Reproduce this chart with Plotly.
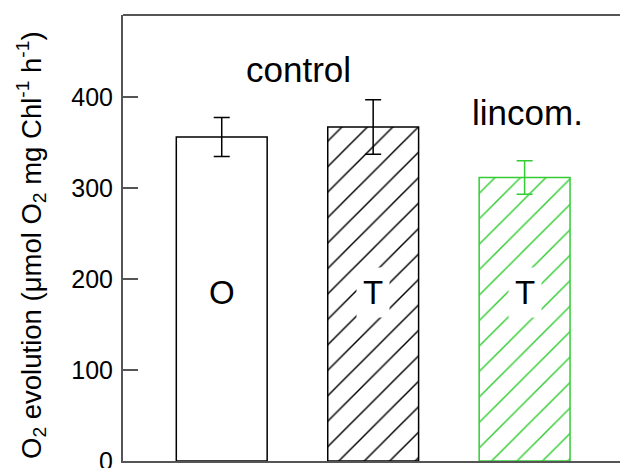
import plotly.graph_objects as go

categories = ["control O", "control T", "lincom. T"]
values = [356, 367, 311.5]
errors = [21.5, 30, 18.5]
bar_labels = ["O", "T", "T"]
group_labels = ["control", "lincom."]

green = "#33CC33"
black = "#000000"
line_colors = [black, black, green]
patterns = ["", "/", "/"]

fig = go.Figure()
xs = [0, 1, 2]
for i in range(3):
    fig.add_trace(go.Bar(
        x=[xs[i]], y=[values[i]], width=0.6,
        marker=dict(
            color="white",
            line=dict(color=line_colors[i], width=1.5),
            pattern=dict(shape=patterns[i], fgcolor=line_colors[i], bgcolor="white",
                         size=18, solidity=0.08, fillmode="replace"),
        ),
        error_y=dict(type="data", array=[errors[i]], color=line_colors[i],
                     thickness=1.5, width=8, visible=True),
        showlegend=False,
    ))

for i in range(3):
    fig.add_annotation(x=xs[i], y=185, text=bar_labels[i], showarrow=False,
                       font=dict(family="Liberation Sans, Arial", size=33, color="black"),
                       bgcolor="white", borderpad=6)

fig.add_annotation(x=0.505, y=430, text=group_labels[0], showarrow=False,
                   font=dict(family="Liberation Sans, Arial", size=35, color="black"))
fig.add_annotation(x=2.02, y=383, text=group_labels[1], showarrow=False,
                   font=dict(family="Liberation Sans, Arial", size=35, color="black"))

fig.add_annotation(xref="paper", yref="paper", x=0, y=0.5, xshift=-92, yshift=-7,
                   xanchor="center", yanchor="middle",
                   text="O<sub>2</sub> evolution (μmol O<sub>2</sub> mg Chl<sup>-1</sup> h<sup>-1</sup>)",
                   textangle=-90, showarrow=False,
                   font=dict(family="Liberation Sans, Arial", size=27.5, color="black"))

# top frame line
fig.add_shape(type="line", xref="paper", yref="paper", x0=0, x1=1, y0=1, y1=1,
              line=dict(color="#555555", width=2))

fig.update_layout(
    width=620, height=468,
    margin=dict(l=123, r=0, t=15, b=7, autoexpand=False),
    plot_bgcolor="white", paper_bgcolor="white",
    font=dict(family="Liberation Sans, Arial", color="black"),
    barmode="overlay",
    xaxis=dict(range=[-0.652, 2.63], showticklabels=False, ticks="", showgrid=False,
               zeroline=False, showline=True, linecolor="#555555", linewidth=2, mirror=False,
               automargin=False),
    yaxis=dict(range=[0, 490], tickvals=[0, 100, 200, 300, 400], ticks="inside", ticklen=15,
               tickwidth=1.5, tickcolor="#555555", showgrid=False, zeroline=False,
               showline=True, linecolor="#555555", linewidth=2, mirror=False,
               tickfont=dict(size=25, family="Liberation Sans, Arial", color="black"),
               ticklabelstandoff=3, ticklabeloverflow="allow", automargin=False),
)

fig.write_html("out.html")
